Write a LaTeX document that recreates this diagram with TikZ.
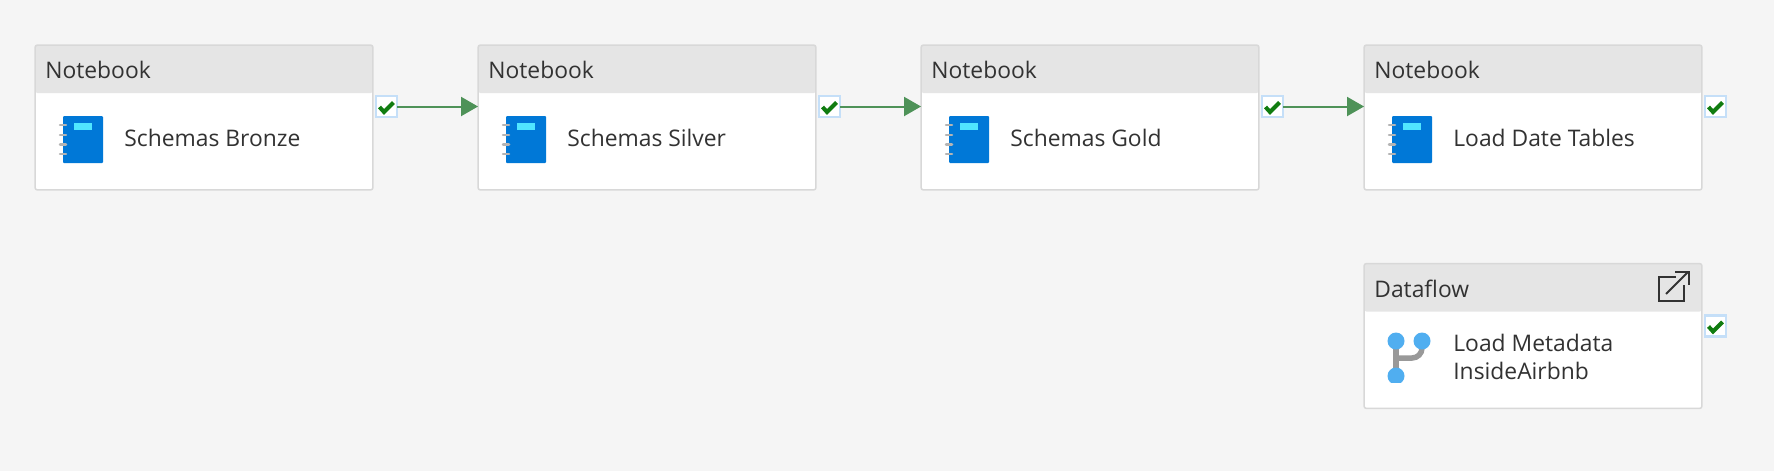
\documentclass[tikz,border=0pt]{standalone}
\usepackage{fontspec}
\setmainfont{Open Sans}
\usepackage{xcolor}
\usetikzlibrary{arrows.meta}
\definecolor{canvasgray}{HTML}{F5F5F5}
\definecolor{headgray}{HTML}{E5E5E5}
\definecolor{edgegray}{HTML}{D8D8D8}
\definecolor{labelgray}{HTML}{323232}
\definecolor{flowgreen}{HTML}{4E9258}
\definecolor{tickgreen}{HTML}{107C10}
\definecolor{tickedge}{HTML}{C5DFF8}
\definecolor{bookblue}{HTML}{0078D7}
\definecolor{booktab}{HTML}{50E6FF}
\definecolor{ringgray}{HTML}{B4B4B4}
\definecolor{dotblue}{HTML}{50AEF0}
\definecolor{stemgray}{HTML}{999999}

\begin{document}
\begin{tikzpicture}[
  x=0.02cm, y=-0.02cm,
  card/.style={draw=edgegray, fill=white, rounded corners=0.05cm, line width=0.03cm,
    minimum width=6.76cm, minimum height=2.9cm, inner sep=0pt, outer sep=0pt,
    path picture={\fill[headgray] (path picture bounding box.north west)
      rectangle ++(338,48);}},
  cardtext/.style={anchor=base west, inner sep=0pt, text=labelgray, font=\fontsize{13pt}{16pt}\selectfont},
  okbox/.style={draw=tickedge, fill=white, line width=0.045cm, minimum size=0.42cm,
    inner sep=0pt, outer sep=0pt},
  tick/.style={draw=tickgreen, line width=0.08cm},
  flow/.style={-{Triangle[length=0.34cm, width=0.38cm]}, flowgreen, line width=0.04cm},
  nbicon/.pic={
    \fill[bookblue, rounded corners=0.02cm] (-20,-23.5) rectangle (20,23.5);
    \fill[booktab] (-9,-16.5) rectangle (9,-9.5);
    \foreach \ringy in {-14.5,-4.5,5,14.5}
      \draw[ringgray, line width=0.05cm, line cap=round] (-23,\ringy) -- (-17,\ringy);
  }
]
\path[use as bounding box, fill=canvasgray] (0,0) rectangle (1774,471);

\node[card] (nb1) at (204,117.5) {};
\node[card] (nb2) at (647,117.5) {};
\node[card] (nb3) at (1090,117.5) {};
\node[card] (nb4) at (1533,117.5) {};
\node[card] (df1) at (1533,336) {};

\node[cardtext] (nb1title) at (45,78) {Notebook};
\node[cardtext] (nb2title) at (488,78) {Notebook};
\node[cardtext] (nb3title) at (931,78) {Notebook};
\node[cardtext] (nb4title) at (1374,78) {Notebook};
\node[cardtext] (df1title) at (1374,297) {Dataflow};

\node[cardtext] (nb1label) at (124,146.5) {Schemas Bronze};
\node[cardtext] (nb2label) at (567,146.5) {Schemas Silver};
\node[cardtext] (nb3label) at (1010,146.5) {Schemas Gold};
\node[cardtext] (nb4label) at (1453,146.5) {Load Date Tables};
\node[cardtext] (df1labelA) at (1453,351.5) {Load Metadata};
\node[cardtext] (df1labelB) at (1453,379.5) {InsideAirbnb};

\pic at (83,139.5) {nbicon};
\pic at (526,139.5) {nbicon};
\pic at (969,139.5) {nbicon};
\pic at (1412,139.5) {nbicon};

% dataflow icon
\draw[stemgray, line width=0.11cm] (1396,341) -- (1396,376);
\draw[stemgray, line width=0.11cm, rounded corners=0.2cm] (1396,358) -- (1422,358) -- (1422,341);
\fill[dotblue] (1396,341) circle (8.5);
\fill[dotblue] (1422,341) circle (8.5);
\begin{scope}
  \clip (1380,360) rectangle (1412,382);
  \fill[dotblue] (1396,376) circle (8.5);
\end{scope}

% open link icon
\draw[labelgray, line width=0.04cm] (1676,277) -- (1659,277) -- (1659,301) -- (1684,301) -- (1684,285);
\draw[labelgray, line width=0.04cm] (1666,294) -- (1688,272);
\draw[labelgray, line width=0.04cm] (1675,272) -- (1688.5,272) -- (1688.5,285);

\node[okbox] (ok1) at (386.5,106.5) {};
\node[okbox] (ok2) at (829.5,106.5) {};
\node[okbox] (ok3) at (1272.5,106.5) {};
\node[okbox] (ok4) at (1715.5,106.5) {};
\node[okbox] (ok5) at (1715.5,326) {};
\foreach \okname in {ok1,ok2,ok3,ok4,ok5}
  \draw[tick] ([shift={(-7,0.5)}]\okname.center) -- ([shift={(-2.5,5.5)}]\okname.center)
    -- ([shift={(7,-4)}]\okname.center);

\draw[flow] (ok1.east) -- (ok1.east -| nb2.west);
\draw[flow] (ok2.east) -- (ok2.east -| nb3.west);
\draw[flow] (ok3.east) -- (ok3.east -| nb4.west);
\end{tikzpicture}
\end{document}
